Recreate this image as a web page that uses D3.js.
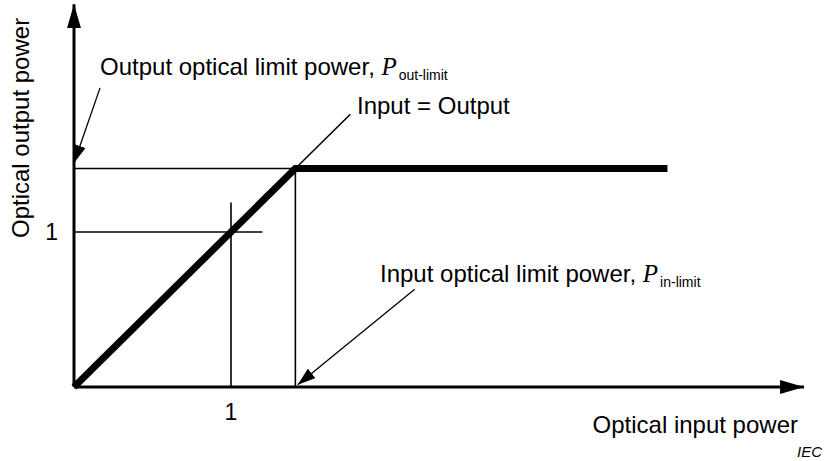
<!DOCTYPE html>
<html>
<head>
<meta charset="utf-8">
<script src="https://cdn.jsdelivr.net/npm/d3@7"></script>
<style>
  html, body { margin: 0; padding: 0; background: #fff; }
  svg { display: block; font-family: 'Liberation Sans', Arial, sans-serif; }
</style>
</head>
<body>
<div id="chart"></div>
<script>
// normalised powers (1 = reference level)
const inLimit = 1.41
const outLimit = 1.41
const xTicks = [1]
const yTicks = [1]
// transfer curve: linear up to the limit, then flat
const curve = [[0, 0], [inLimit, outLimit], [3.78, outLimit]]
// thin continuation of Input = Output past the limit
const identityExt = [[inLimit, outLimit], [1.76, 1.76]]
// guide lines through the 1,1 point
const unitH = [[0, 1], [1.2, 1]]
const unitV = [[1, 0], [1, 1.19]]
// annotation arrows [from, to]
const outArrow = [[0.166, 1.93], [0.0, 1.445]]
const inArrow = [[2.17, 0.63], [1.425, 0.015]]

const W = 825, H = 461
const margin = { left: 74, bottom: 74 }

const x = d3.scaleLinear().domain([0, 4.65]).range([margin.left, margin.left + 4.65 * 157])
const y = d3.scaleLinear().domain([0, 2.47]).range([H - margin.bottom, H - margin.bottom - 2.47 * 155])

const svg = d3.select('#chart').append('svg').attr('width', W).attr('height', H)

const defs = svg.append('defs')
defs.append('marker').attr('id', 'ax').attr('viewBox', '0 0 24 14')
  .attr('refX', 24).attr('refY', 7).attr('markerWidth', 24).attr('markerHeight', 14)
  .attr('markerUnits', 'userSpaceOnUse').attr('orient', 'auto')
  .append('path').attr('d', 'M0,0L24,7L0,14Z').attr('fill', '#000')
defs.append('marker').attr('id', 'ann').attr('viewBox', '0 0 18 12')
  .attr('refX', 18).attr('refY', 6).attr('markerWidth', 18).attr('markerHeight', 12)
  .attr('markerUnits', 'userSpaceOnUse').attr('orient', 'auto')
  .append('path').attr('d', 'M0,0L18,6L0,12Z').attr('fill', '#000')

const line = d3.line().x(d => x(d[0])).y(d => y(d[1]))

// thin guide lines
const thin = [
  [[0, outLimit], [inLimit, outLimit]],
  [[inLimit, 0], [inLimit, outLimit]],
  unitH, unitV, identityExt
]
svg.selectAll('path.thin').data(thin).enter().append('path').classed('thin', true)
  .attr('d', line).attr('fill', 'none').attr('stroke', '#000').attr('stroke-width', 1.6)

// axes with arrowheads
svg.append('line').attr('x1', x(0)).attr('y1', y(0)).attr('x2', x(4.65)).attr('y2', y(0))
  .attr('stroke', '#000').attr('stroke-width', 3).attr('marker-end', 'url(#ax)')
svg.append('line').attr('x1', x(0)).attr('y1', y(0)).attr('x2', x(0)).attr('y2', y(2.47))
  .attr('stroke', '#000').attr('stroke-width', 3).attr('marker-end', 'url(#ax)')

// transfer curve
svg.append('path').attr('d', line(curve)).attr('fill', 'none').attr('stroke', '#000')
  .attr('stroke-width', 7).attr('stroke-linejoin', 'miter')

// annotation arrows
svg.selectAll('line.ann').data([outArrow, inArrow]).enter().append('line').classed('ann', true)
  .attr('x1', d => x(d[0][0])).attr('y1', d => y(d[0][1]))
  .attr('x2', d => x(d[1][0])).attr('y2', d => y(d[1][1]))
  .attr('stroke', '#000').attr('stroke-width', 1.3).attr('marker-end', 'url(#ann)')

// tick labels
svg.selectAll('text.xt').data(xTicks).enter().append('text').classed('xt', true)
  .text(d => d).attr('x', d => x(d)).attr('y', y(0) + 33)
  .attr('text-anchor', 'middle').attr('font-size', 23)
svg.selectAll('text.yt').data(yTicks).enter().append('text').classed('yt', true)
  .text(d => d).attr('x', x(0) - 16).attr('y', d => y(d) + 8)
  .attr('text-anchor', 'end').attr('font-size', 23)

// axis titles
svg.append('text').text('Optical input power').attr('x', 798).attr('y', 433)
  .attr('text-anchor', 'end').attr('font-size', 24)
svg.append('text').text('Optical output power')
  .attr('transform', 'translate(29, 238) rotate(-90)').attr('font-size', 24)
svg.append('text').text('IEC').attr('x', 822).attr('y', 457).attr('text-anchor', 'end')
  .attr('font-size', 15).attr('font-style', 'italic')

// labels with P subscript
function label (txt, sub, px, py) {
  let t = svg.append('text').attr('x', px).attr('y', py).attr('font-size', 24)
  t.append('tspan').text(txt + ' ')
  t.append('tspan').text('P').attr('font-family', "'Liberation Serif', 'Times New Roman', serif")
    .attr('font-style', 'italic').attr('font-size', 25)
  t.append('tspan').text(sub).attr('font-size', 14).attr('dy', 5).attr('dx', 2)
}
label('Output optical limit power,', 'out-limit', 100, 75)
label('Input optical limit power,', 'in-limit', 380, 282)
svg.append('text').text('Input = Output').attr('x', 357).attr('y', 114).attr('font-size', 24)
</script>
</body>
</html>
